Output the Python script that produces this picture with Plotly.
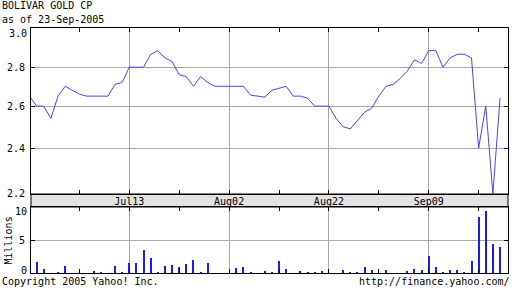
import math
import plotly.graph_objects as go

# ---------------- data ----------------
title_name = "BOLIVAR GOLD CP"
as_of_text = "as of 23-Sep-2005"
copyright_text = "Copyright 2005 Yahoo! Inc."
source_text = "http://finance.yahoo.com/"
volume_title = "Millions"

# daily closing price, one value per trading day (22-Jun-2005 .. 23-Sep-2005)
price = [2.65, 2.60, 2.60, 2.54, 2.65, 2.70, 2.68, 2.66, 2.65, 2.65,
         2.65, 2.65, 2.71, 2.72, 2.80, 2.80, 2.80, 2.87, 2.89, 2.85,
         2.83, 2.76, 2.75, 2.70, 2.75, 2.72, 2.70, 2.70, 2.70, 2.70,
         2.70, 2.655, 2.65, 2.645, 2.68, 2.69, 2.70, 2.65, 2.65, 2.64,
         2.60, 2.60, 2.60, 2.54, 2.50, 2.49, 2.53, 2.57, 2.59, 2.65,
         2.70, 2.71, 2.74, 2.78, 2.84, 2.82, 2.89, 2.89, 2.80, 2.85,
         2.87, 2.87, 2.85, 2.40, 2.60, 2.20, 2.64]

# daily volume, millions of shares
volume_m = [0.0, 1.7, 0.65, 0.0, 0.2, 1.1, 0.0, 0.0, 0.0, 0.35,
            0.2, 0.0, 1.0, 0.2, 1.55, 1.55, 3.5, 2.3, 0.2, 1.0,
            1.25, 0.95, 1.4, 2.0, 0.2, 1.55, 0.0, 0.0, 0.0, 0.8,
            0.95, 0.2, 0.0, 0.35, 0.2, 1.85, 0.65, 0.0, 0.35, 0.2,
            0.2, 0.35, 0.0, 0.0, 0.5, 0.2, 0.2, 0.95, 0.5, 0.0,
            0.5, 0.0, 0.0, 0.35, 0.55, 0.5, 2.6, 0.95, 0.2, 0.5,
            0.5, 0.2, 1.85, 8.45, 9.35, 4.4, 3.95]

# x axis: trading-day index of the labelled / unlabelled date ticks
major_tick_idx = [14, 28, 42, 56]
major_tick_text = ["Jul13", "Aug02", "Aug22", "Sep09"]
minor_tick_idx = [7, 21, 35, 49, 63]

price_tick_vals = [2.2, 2.4, 2.6, 2.8]
price_tick_text = ["2.2", "2.4", "2.6", "2.8"]
price_top_vals = [3.0]
price_top_text = ["3.0"]
vol_mid_vals = [5]
vol_mid_text = ["5"]
vol_low_vals = [0]
vol_low_text = ["0"]
vol_high_vals = [10]
vol_high_text = ["10"]

# ---------------- layout geometry ----------------
W, H = 512, 288
L, R, T, B = 31, 4, 28, 15
PW = W - L - R
PH = H - T - B
PRICE_BOTTOM_PX = 194
VOL_TOP_PX = 207


def fy(px):
    return (H - B - px) / PH


def fx(px):
    return (px - L) / PW


FONT = dict(family="DejaVu Sans Mono", size=10, color="black")
GRID = "#a8a8a8"
x_idx = list(range(len(price)))
x_range = [0.21, 67.12]
y_range = [math.log10(2.2) - 1e-4, 0.47959]
vol_range = [0, 10]

fig = go.Figure()
fig.add_trace(go.Scatter(x=x_idx, y=price, mode="lines",
                         line=dict(color="#4646ff", width=1),
                         xaxis="x", yaxis="y", hoverinfo="skip"))
fig.add_trace(go.Bar(x=x_idx, y=volume_m, width=0.28,
                     marker=dict(color="#1a1aff", line=dict(width=0)),
                     xaxis="x2", yaxis="y2", hoverinfo="skip"))
# empty helper traces so that the label-only overlay axes get drawn
for xa, ya in (("x", "y3"), ("x2", "y4"), ("x2", "y5")):
    fig.add_trace(go.Scatter(x=[None], y=[None], mode="lines", xaxis=xa,
                             yaxis=ya, hoverinfo="skip", showlegend=False))

common_x = dict(range=x_range, tickmode="array", tickvals=major_tick_idx,
                ticks="inside", ticklen=4, tickcolor="black",
                showline=True, linecolor="black", linewidth=1, mirror="ticks",
                showgrid=True, gridcolor=GRID, gridwidth=1, zeroline=False,
                minor=dict(tickmode="array", tickvals=minor_tick_idx,
                           ticks="inside", ticklen=4, tickcolor="black",
                           showgrid=False),
                tickfont=FONT, fixedrange=True)

label_only = dict(side="left", ticks="", showgrid=False, showline=False,
                  zeroline=False, tickfont=FONT, ticklabelstandoff=3,
                  tickmode="array")

fig.update_layout(
    width=W, height=H, autosize=False,
    margin=dict(l=L, r=R, t=T, b=B, pad=0),
    paper_bgcolor="white", plot_bgcolor="white",
    showlegend=False, bargap=0,
    xaxis=dict(domain=[0, 1], anchor="y", ticktext=major_tick_text,
               ticklabelstandoff=-2, **common_x),
    yaxis=dict(domain=[fy(PRICE_BOTTOM_PX), 1], anchor="x", type="log",
               range=y_range, tickmode="array", tickvals=price_tick_vals,
               ticktext=price_tick_text, ticks="inside", ticklen=4,
               tickcolor="black", showline=True, linecolor="black",
               linewidth=1, mirror="ticks", showgrid=True, gridcolor=GRID,
               zeroline=False, tickfont=FONT, ticklabelstandoff=3),
    # label for the top price value (log10 units on a linear overlay)
    yaxis3=dict(overlaying="y", anchor="x", type="linear", range=y_range,
                tickvals=[math.log10(v) for v in price_top_vals],
                ticktext=price_top_text, ticklabelshift=3, **label_only),
    xaxis2=dict(domain=[0, 1], anchor="y2", showticklabels=False, **common_x),
    yaxis2=dict(domain=[0, fy(VOL_TOP_PX)], anchor="x2", range=vol_range,
                tickmode="array", tickvals=vol_mid_vals, ticktext=vol_mid_text,
                ticks="inside", ticklen=4, tickcolor="black",
                showline=True, linecolor="black", linewidth=1, mirror="ticks",
                showgrid=True, gridcolor=GRID, zeroline=False,
                tickfont=FONT, ticklabelstandoff=3),
    yaxis4=dict(overlaying="y2", anchor="x2", range=vol_range,
                tickvals=vol_low_vals, ticktext=vol_low_text,
                ticklabelshift=-3, **label_only),
    yaxis5=dict(overlaying="y2", anchor="x2", range=vol_range,
                tickvals=vol_high_vals, ticktext=vol_high_text,
                ticklabelshift=4, **label_only),
    shapes=[dict(type="rect", xref="paper", yref="paper", x0=0, x1=1,
                 y0=fy(VOL_TOP_PX), y1=fy(PRICE_BOTTOM_PX),
                 fillcolor="#e2e2e2", line=dict(color="black", width=1),
                 layer="below")],
    annotations=[
        dict(text=title_name, xref="paper", yref="paper", x=fx(0), y=fy(-2),
             xanchor="left", yanchor="top", showarrow=False, font=FONT),
        dict(text=as_of_text, xref="paper", yref="paper", x=fx(0), y=fy(12),
             xanchor="left", yanchor="top", showarrow=False, font=FONT),
        dict(text=copyright_text, xref="paper", yref="paper", x=fx(0), y=fy(289),
             xanchor="left", yanchor="bottom", showarrow=False, font=FONT),
        dict(text=source_text, xref="paper", yref="paper", x=fx(512), y=fy(289),
             xanchor="right", yanchor="bottom", showarrow=False, font=FONT),
        dict(text=volume_title, xref="paper", yref="paper", x=fx(7.5),
             y=fy(241), xanchor="center", yanchor="middle", textangle=-90,
             showarrow=False, font=FONT),
    ],
)

fig.write_html("out.html", config={"displayModeBar": False, "staticPlot": True})
